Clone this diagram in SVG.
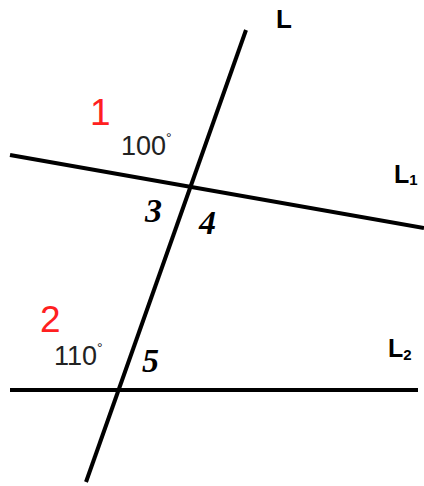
<svg xmlns="http://www.w3.org/2000/svg" width="424" height="486" viewBox="0 0 424 486">
<style>
.ln{stroke:#000;stroke-width:4;fill:none;stroke-linecap:butt}
.lab{font-family:"Liberation Sans",Arial,sans-serif;font-weight:bold;fill:#000}
.num{font-family:"Liberation Sans",Arial,sans-serif;fill:#ff2020;font-size:37px}
.deg{font-family:"Liberation Sans",Arial,sans-serif;fill:#222;font-size:27px}
.ang{font-family:"Liberation Serif","Times New Roman",serif;font-style:italic;font-weight:bold;fill:#000;font-size:34px}
</style>
<rect width="424" height="486" fill="#fff"/>
<g id="connectors">
<line class="ln" x1="246" y1="30" x2="86" y2="482"/>
<line class="ln" x1="10" y1="155" x2="424" y2="228"/>
<line class="ln" x1="10" y1="390" x2="418" y2="390"/>
</g>
<g id="label-L"><text class="lab" x="276" y="28" font-size="26">L</text></g>
<g id="label-L1"><text class="lab" x="394" y="183" font-size="25">L<tspan font-size="15" dy="2">1</tspan></text></g>
<g id="label-L2"><text class="lab" x="388" y="357" font-size="25">L<tspan font-size="15" dy="3">2</tspan></text></g>
<g id="num-1"><text class="num" x="90" y="125">1</text></g>
<g id="num-2"><text class="num" x="40" y="332">2</text></g>
<g id="angle-100"><text class="deg" x="121" y="155">100<tspan font-size="14" dy="-12">°</tspan></text></g>
<g id="angle-110"><text class="deg" x="54" y="365">110<tspan font-size="14" dy="-12">°</tspan></text></g>
<g id="angle-3"><text class="ang" x="145" y="222">3</text></g>
<g id="angle-4"><text class="ang" x="199" y="234">4</text></g>
<g id="angle-5"><text class="ang" x="142" y="372">5</text></g>
</svg>
